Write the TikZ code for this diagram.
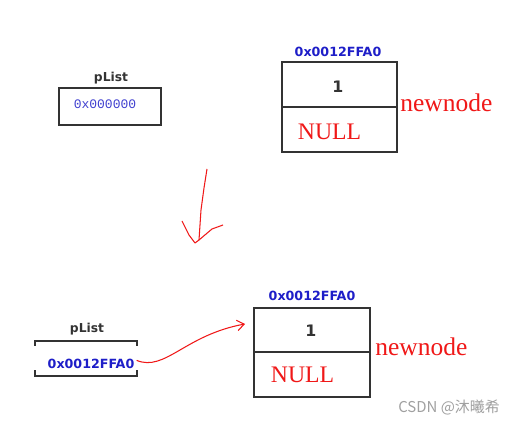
\documentclass[tikz,border=0pt]{standalone}
\usepackage{fontspec}
\usepackage{tikz}
\usetikzlibrary{calc,arrows.meta}
\newfontfamily\labelfont{DejaVu Sans}
\newfontfamily\memfont{Liberation Mono}
\newfontfamily\penfont{Liberation Serif}
\newfontfamily\cjk{Noto Sans CJK SC}
\definecolor{addr_blue}{HTML}{1E1EC8}
\definecolor{ink_gray}{HTML}{333333}
\definecolor{pen_red}{HTML}{F01818}
\definecolor{mark_gray}{HTML}{A0A0A0}
\tikzset{
	cell/.style={draw=ink_gray, line width=1.1pt, inner sep=0pt, minimum width=2.3cm, minimum height=0.9cm},
	frame/.style={draw=ink_gray, line width=1.1pt, line cap=rect},
	boldlabel/.style={font=\labelfont\bfseries\fontsize{7}{8}\selectfont, text=ink_gray, anchor=base, inner sep=0pt},
	addr/.style={font=\labelfont\bfseries\fontsize{7.2}{8}\selectfont, text=addr_blue, anchor=base, inner sep=0pt},
	pentext/.style={font=\penfont\fontsize{13.5}{15}\selectfont, text=pen_red, inner sep=0pt},
	pen/.style={draw=pen_red, line width=0.6pt, line join=round}
}

\begin{document}
\begin{tikzpicture}[x=0.02cm, y=-0.02cm]
	\useasboundingbox[fill=white] (0, 0) rectangle (515, 425);
	\node[boldlabel] (plist1lbl) at (111, 82) {pList};
	\node[frame, minimum width=2.04cm, minimum height=0.74cm, inner sep=0pt] (plist1) at (110, 106.5) {};
	\node[anchor=base, inner sep=0pt, text=addr_blue!85, font=\memfont\fontsize{7.4}{8}\selectfont] (plist1val) at (105, 109) {0x000000};
	\node[addr] (addr1) at (338, 57) {0x0012FFA0};
	\node[cell] (data1) at (339.5, 84.5) {};
	\node[cell] (next1) at (339.5, 129.5) {};
	\node[boldlabel, font=\labelfont\bfseries\fontsize{9}{10}\selectfont] (one1) at (338, 92.5) {1};
	\node[pentext] (null1) at (329.5, 132) {NULL};
	\node[pentext, anchor=west, font=\penfont\fontsize{14.5}{16}\selectfont] (name1) at (400, 103) {newnode};
	\coordinate (S) at (207, 169);
	\coordinate (T) at (199, 240);
	\draw[pen] (S) -- (204, 188) -- (201, 210) -- (T);
	\draw[pen] (182, 221) -- (189, 235) -- (195, 243) -- (T) -- (212, 229) -- (223, 225);
	\node[boldlabel] (plist2lbl) at (87, 333) {pList};
	\node[minimum width=2.04cm, minimum height=0.7cm, inner sep=0pt] (plist2) at (86, 358.5) {};
	\draw[frame] ($(plist2.north west) + (0, 4)$) -- (plist2.north west) -- (plist2.north east) -- ++(0, 4);
	\draw[frame] ($(plist2.south west) + (0, -5)$) -- (plist2.south west) -- (plist2.south east) -- ++(0, -5);
	\node[addr] (plist2val) at (91, 369) {0x0012FFA0};
	\node[addr] (addr2) at (312, 301) {0x0012FFA0};
	\node[cell, minimum width=2.32cm, minimum height=0.88cm] (data2) at (312, 330) {};
	\node[cell, minimum width=2.32cm] (next2) at (312, 374.5) {};
	\node[boldlabel, font=\labelfont\bfseries\fontsize{9}{10}\selectfont] (one2) at (311, 337) {1};
	\node[pentext] (null2) at (302.5, 375) {NULL};
	\node[pentext, anchor=west, font=\penfont\fontsize{14.5}{16}\selectfont] (name2) at (375, 347) {newnode};
	\coordinate (P) at (245, 324);
	\draw[pen, -{Straight Barb[length=4pt, width=6pt]}] ($(plist2val.east) + (2, -4)$) .. controls (165, 372) and (185, 335) .. (P);
	\node[anchor=base, inner sep=0pt, text=mark_gray, font=\cjk\fontsize{8.5}{10}\selectfont] (mark) at (449, 413) {CSDN @沐曦希};
\end{tikzpicture}
\end{document}
